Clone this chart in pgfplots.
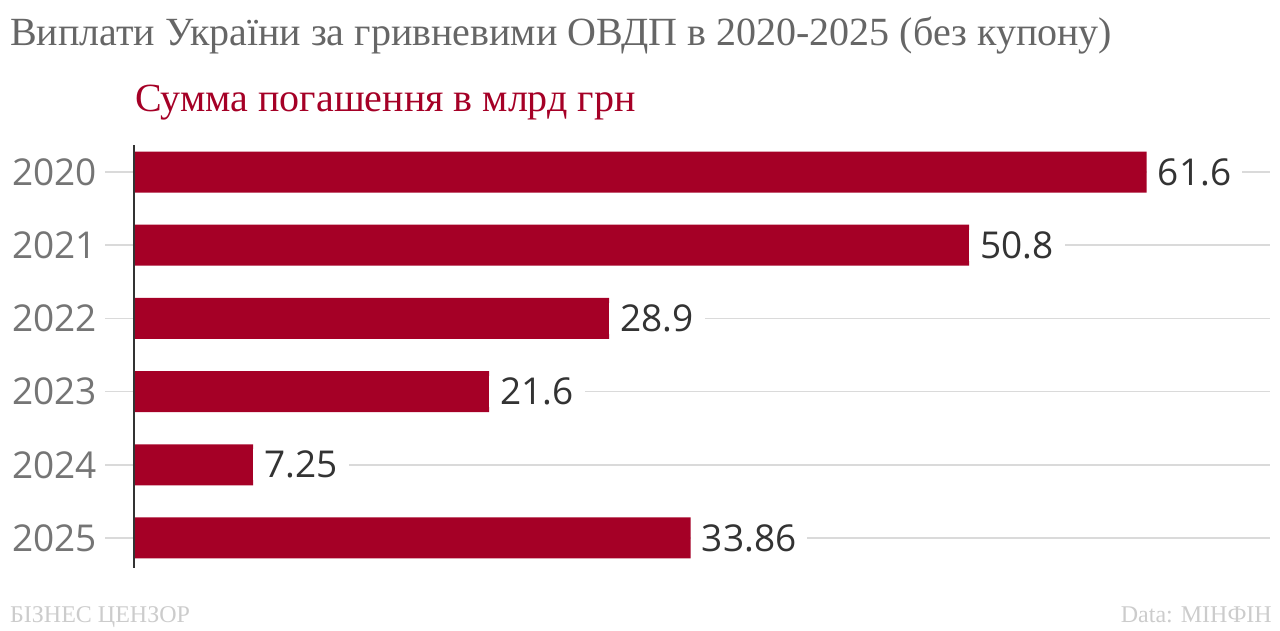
\documentclass[border=0pt]{standalone}
\usepackage{fontspec}
\setmainfont{Liberation Serif}
\newfontfamily\labfont{Open Sans}
\usepackage{pgfplots}
\pgfplotsset{compat=1.18}
\usepackage{pgfplotstable}
\definecolor{barred}{HTML}{A50026}
\definecolor{titlegray}{HTML}{666666}
\definecolor{tickgray}{HTML}{757575}
\definecolor{valgray}{HTML}{333333}
\definecolor{gridgray}{HTML}{DADADA}
\definecolor{footgray}{HTML}{CCCCCC}
\definecolor{axisdark}{HTML}{333333}
\pgfplotstableread{
i v lab
0 61.6 61.6
1 50.8 50.8
2 28.9 28.9
3 21.6 21.6
4 7.25 7.25
5 33.86 33.86
}\datatable
\begin{document}
\begin{tikzpicture}[x=1pt,y=1pt]
\useasboundingbox (0,0) rectangle (1280,630);
\begin{axis}[
  at={(105pt,62pt)}, anchor=south west,
  scale only axis, width=1165pt, height=423pt,
  xmin=-1.764, xmax=69.1, ymin=-0.369, ymax=5.41,
  y dir=reverse,
  xbar, bar width=41pt,
  axis line style={draw=none},
  xtick=\empty,
  ytick={0,1,2,3,4,5},
  yticklabels={2020,2021,2022,2023,2024,2025},
  major tick length=0pt,
  ymajorgrids,
  grid style={color=gridgray, line width=1.5pt},
  yticklabel style={font=\labfont\fontsize{37}{37}\selectfont, color=tickgray, anchor=east, inner sep=0pt, xshift=-8pt},
  nodes near coords,
  point meta=explicit symbolic,
  nodes near coords style={font=\labfont\fontsize{37}{37}\selectfont, color=valgray, anchor=west, fill=white, inner xsep=11pt, inner ysep=2pt},
  clip=false,
]
\addplot[fill=barred, draw=none] table[x=v,y=i,meta=lab]{\datatable};
\draw[axisdark, line width=2pt] (axis cs:0,-0.369) -- (axis cs:0,5.41);
\end{axis}
\node[anchor=base west, inner sep=0pt, text=titlegray, font=\fontsize{40}{40}\selectfont] at (10,584) {Виплати України за гривневими ОВДП в 2020-2025 (без купону)};
\node[anchor=base west, inner sep=0pt, text=barred, font=\fontsize{40}{40}\selectfont] at (135,518) {Сумма погашення в млрд грн};
\node[anchor=base west, inner sep=0pt, text=footgray, font=\fontsize{24}{24}\selectfont] at (10,8) {БІЗНЕС ЦЕНЗОР};
\node[anchor=base east, inner sep=0pt, text=footgray, font=\fontsize{24}{24}\selectfont] at (1272,8) {Data: МІНФІН};
\end{tikzpicture}
\end{document}
